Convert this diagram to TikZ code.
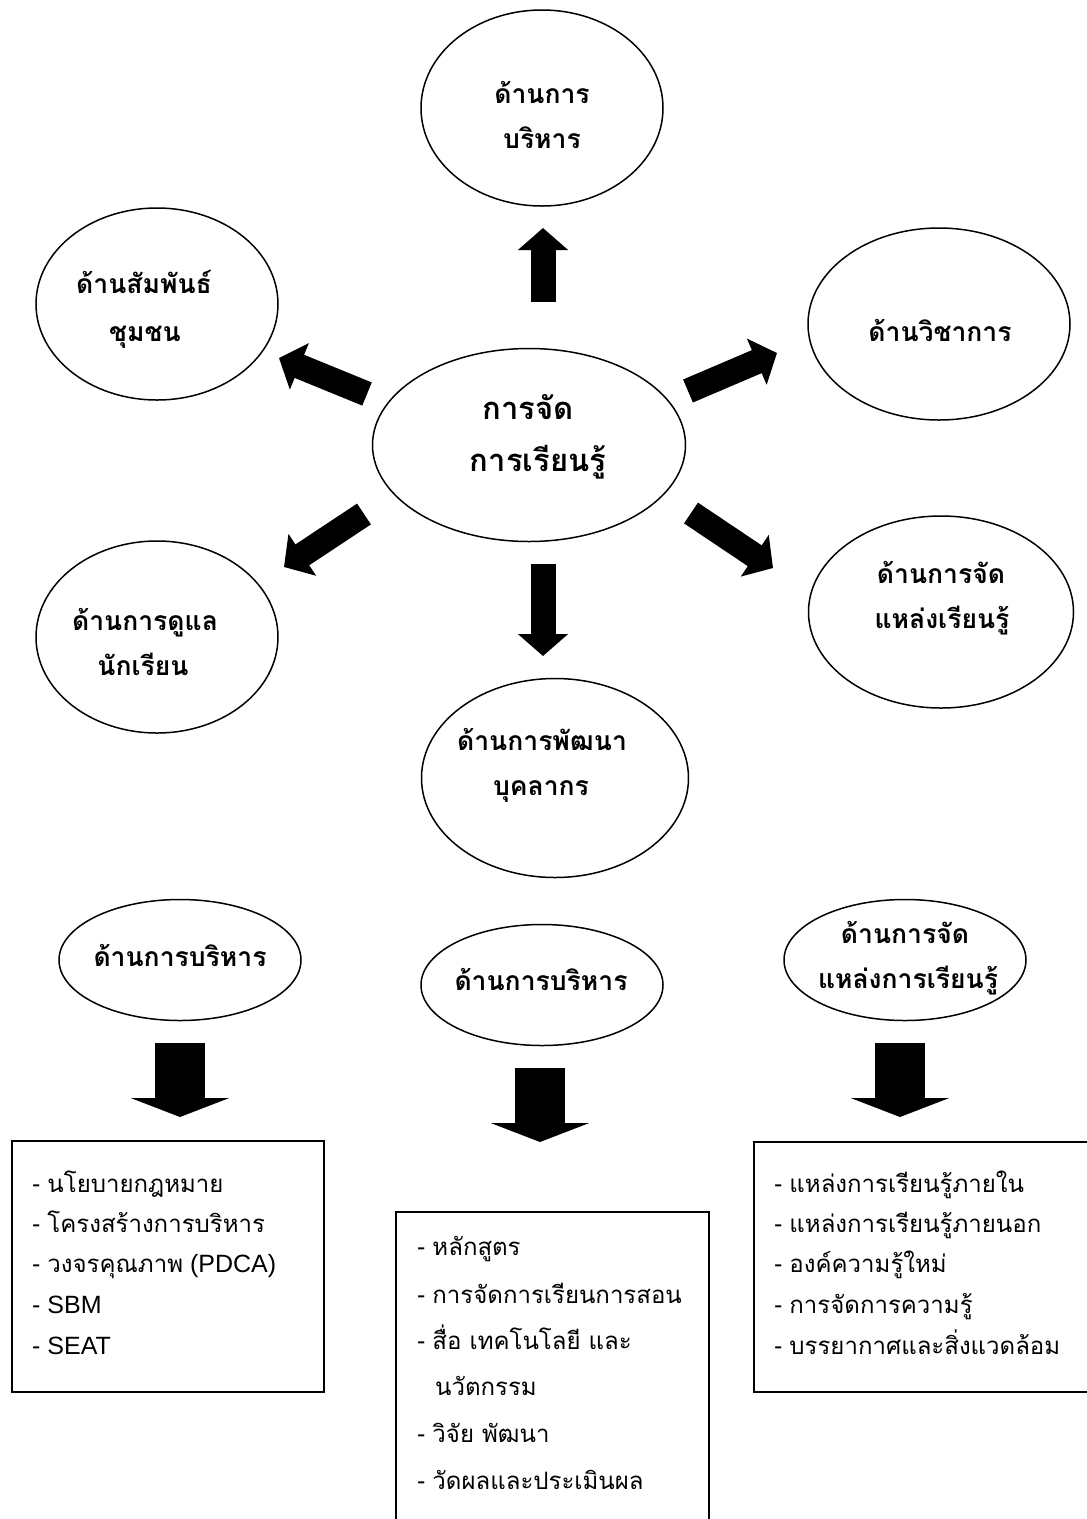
\documentclass[tikz,border=0pt]{standalone}
\usepackage{fontspec}
\setmainfont{Liberation Sans}
\newfontfamily\thaifont[Script=Thai]{Loma}
\newfontfamily\thaibox[Script=Thai,Scale=0.96]{Loma}
\newcommand\tht[1]{{\thaibox #1}}
\usetikzlibrary{arrows.meta,shapes.geometric}
\begin{document}
\begin{tikzpicture}[x=1pt,y=-1pt,
  oval/.style={draw, line width=1.5pt, ellipse, inner sep=0pt},
  lbl/.style={font=\thaifont\bfseries\fontsize{26.5}{30}\selectfont, inner sep=0pt, anchor=base},
  biglbl/.style={font=\thaifont\bfseries\fontsize{31}{36}\selectfont, inner sep=0pt, anchor=base},
  item/.style={font=\fontsize{25}{30}\selectfont, inner sep=0pt, anchor=base west},
  listbox/.style={draw, line width=2pt},
  fatarrow/.style={line width=25pt, -{Triangle[width=49pt,length=22pt]}},
  bigarrow/.style={line width=50pt, -{Triangle[width=98pt,length=19pt]}}]
\useasboundingbox[fill=white] (0,0) rectangle (1087,1519);

% ellipses
\node[oval, minimum width=242pt, minimum height=196pt] (top) at (542,108) {};
\node[oval, minimum width=242pt, minimum height=192pt] (lt) at (157,304) {};
\node[oval, minimum width=262pt, minimum height=192pt] (rt) at (939,324) {};
\node[oval, minimum width=313pt, minimum height=193pt] (ctr) at (529,445) {};
\node[oval, minimum width=242pt, minimum height=192pt] (lb) at (157,637) {};
\node[oval, minimum width=265pt, minimum height=192pt] (rb) at (941,612) {};
\node[oval, minimum width=267pt, minimum height=199pt] (bc) at (555,778) {};
\node[oval, minimum width=242pt, minimum height=121pt] (s1) at (180,960) {};
\node[oval, minimum width=242pt, minimum height=121pt] (s2) at (542,985) {};
\node[oval, minimum width=242pt, minimum height=121pt] (s3) at (905,960) {};

% ellipse labels
\node[lbl] (top1) at (542,103) {ด้านการ};
\node[lbl] (top2) at (542,148) {บริหาร};
\node[lbl] (lt1) at (144,293) {ด้านสัมพันธ์};
\node[lbl] (lt2) at (145,341) {ชุมชน};
\node[lbl] (rt1) at (940,341) {ด้านวิชาการ};
\node[biglbl] (ctr1) at (528,419) {การจัด};
\node[biglbl] (ctr2) at (538,471) {การเรียนรู้};
\node[lbl] (lb1) at (145,630) {ด้านการดูแล};
\node[lbl] (lb2) at (143,675) {นักเรียน};
\node[lbl] (rb1) at (941,583) {ด้านการจัด};
\node[lbl] (rb2) at (942,628) {แหล่งเรียนรู้};
\node[lbl] (bc1) at (542,750) {ด้านการพัฒนา};
\node[lbl] (bc2) at (541,795) {บุคลากร};
\node[lbl] (s1t) at (180,966) {ด้านการบริหาร};
\node[lbl] (s2t) at (541,990) {ด้านการบริหาร};
\node[lbl] (s3a) at (905,943) {ด้านการจัด};
\node[lbl] (s3b) at (908,988) {แหล่งการเรียนรู้};

% arrow end points
\coordinate (aUt) at (543,302); \coordinate (aUh) at (543,228);
\coordinate (aLTt) at (367,394); \coordinate (aLTh) at (279,358);
\coordinate (aRTt) at (688,391); \coordinate (aRTh) at (777,353);
\coordinate (aLBt) at (364,514); \coordinate (aLBh) at (284,567);
\coordinate (aRBt) at (691,513); \coordinate (aRBh) at (773,568);
\coordinate (aDt) at (543,564); \coordinate (aDh) at (543,656);
\coordinate (b1t) at (180,1043); \coordinate (b1h) at (180,1117);
\coordinate (b2t) at (540,1068); \coordinate (b2h) at (540,1142);
\coordinate (b3t) at (900,1043); \coordinate (b3h) at (900,1117);

\draw[fatarrow] (aUt) -- (aUh);
\draw[fatarrow] (aLTt) -- (aLTh);
\draw[fatarrow] (aRTt) -- (aRTh);
\draw[fatarrow] (aLBt) -- (aLBh);
\draw[fatarrow] (aRBt) -- (aRBh);
\draw[fatarrow] (aDt) -- (aDh);
\draw[bigarrow] (b1t) -- (b1h);
\draw[bigarrow] (b2t) -- (b2h);
\draw[bigarrow] (b3t) -- (b3h);

% boxes
\draw[listbox] (12,1141) rectangle (324,1392);
\draw[listbox] (396,1212) rectangle (709,1545);
\draw[listbox] (754,1142) rectangle (1100,1392);

% left list
\node[item] (l1) at (32,1192) {- \tht{นโยบายกฎหมาย}};
\node[item] (l2) at (32,1232) {- \tht{โครงสร้างการบริหาร}};
\node[item] (l3) at (32,1272) {- \tht{วงจรคุณภาพ} (PDCA)};
\node[item] (l4) at (32,1313) {- SBM};
\node[item] (l5) at (32,1354) {- SEAT};

% middle list
\node[item] (m1) at (417,1255) {- \tht{หลักสูตร}};
\node[item] (m2) at (417,1303) {- \tht{การจัดการเรียนการสอน}};
\node[item] (m3) at (417,1349) {- \tht{สื่อ เทคโนโลยี และ}};
\node[item] (m4) at (435,1395) {\tht{นวัตกรรม}};
\node[item] (m5) at (417,1442) {- \tht{วิจัย พัฒนา}};
\node[item] (m6) at (417,1489) {- \tht{วัดผลและประเมินผล}};

% right list
\node[item] (r1) at (774,1192) {- \tht{แหล่งการเรียนรู้ภายใน}};
\node[item] (r2) at (774,1232) {- \tht{แหล่งการเรียนรู้ภายนอก}};
\node[item] (r3) at (774,1272) {- \tht{องค์ความรู้ใหม่}};
\node[item] (r4) at (774,1313) {- \tht{การจัดการความรู้}};
\node[item] (r5) at (774,1354) {- \tht{บรรยากาศและสิ่งแวดล้อม}};
\end{tikzpicture}
\end{document}
